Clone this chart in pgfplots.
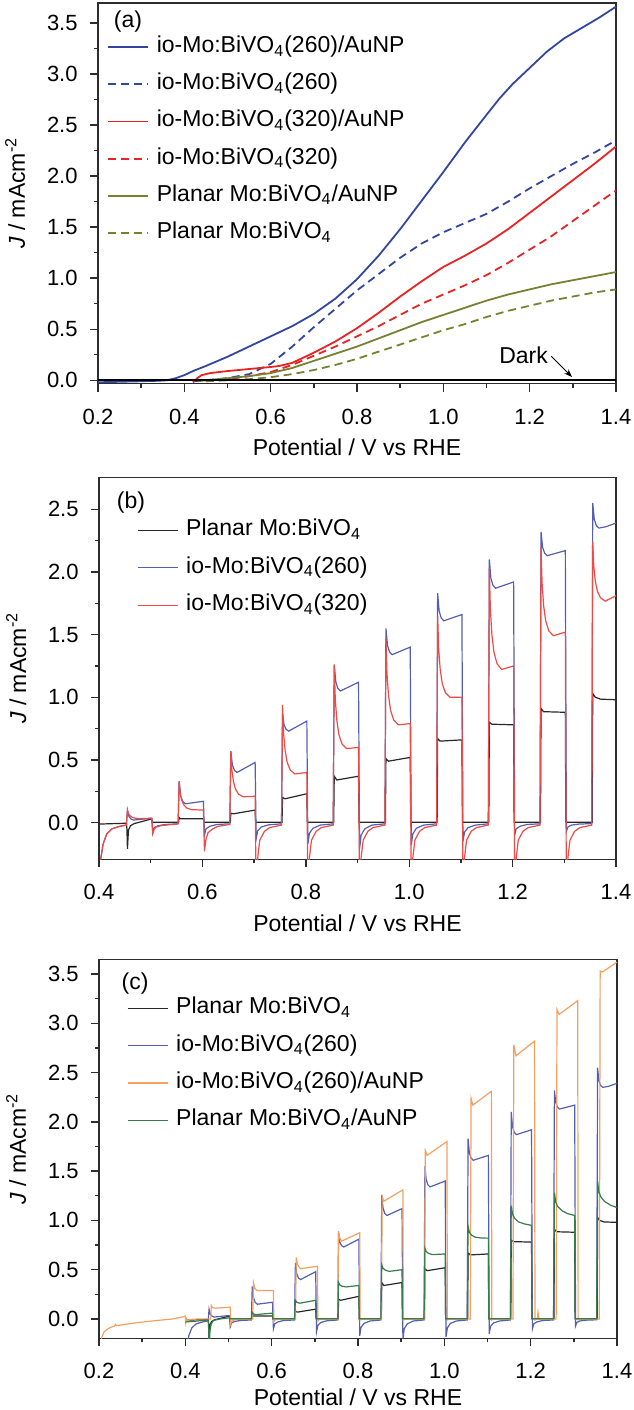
\documentclass[border=0pt]{standalone}
\usepackage{fontspec}
\setmainfont{Liberation Sans}
\usepackage{pgfplots}
\usepackage{pgfplotstable}
\pgfplotsset{compat=1.18}
\usetikzlibrary{arrows.meta}
\definecolor{aBlue}{RGB}{50,70,160}
\definecolor{aRed}{RGB}{232,35,35}
\definecolor{aOlive}{RGB}{120,128,50}
\definecolor{bBlack}{RGB}{40,40,40}
\definecolor{bBlue}{RGB}{85,95,178}
\definecolor{bRed}{RGB}{236,75,70}
\definecolor{cOrange}{RGB}{245,160,95}
\definecolor{cGreen}{RGB}{55,125,75}
\definecolor{axc}{RGB}{45,45,45}

% io-Mo:BiVO4(260), chopped light
\pgfplotstableread[row sep=\\]{
x y\\
0.400 -0.5\\ 0.403 -0.3\\ 0.408 -0.17\\ 0.415 -0.09\\ 0.425 -0.05\\ 0.440 -0.03\\ 0.453 -0.02\\
0.455 0.10\\ 0.458 0.048\\ 0.462 0.028\\ 0.467 0.02\\ 0.502 0.035\\
0.504 -0.08\\ 0.507 -0.04\\ 0.514 -0.025\\ 0.528 -0.015\\ 0.553 -0.01\\
0.555 0.33\\ 0.558 0.213\\ 0.562 0.168\\ 0.567 0.15\\ 0.602 0.17\\
0.604 -0.10\\ 0.607 -0.05\\ 0.614 -0.03\\ 0.628 -0.015\\ 0.653 -0.01\\
0.655 0.57\\ 0.658 0.46\\ 0.662 0.417\\ 0.667 0.40\\ 0.702 0.48\\
0.704 -0.13\\ 0.707 -0.065\\ 0.714 -0.035\\ 0.728 -0.018\\ 0.753 -0.01\\
0.755 0.87\\ 0.758 0.779\\ 0.762 0.744\\ 0.767 0.73\\ 0.802 0.81\\
0.804 -0.17\\ 0.807 -0.085\\ 0.814 -0.045\\ 0.828 -0.02\\ 0.853 -0.01\\
0.855 1.26\\ 0.858 1.124\\ 0.862 1.071\\ 0.867 1.05\\ 0.902 1.12\\
0.904 -0.21\\ 0.907 -0.10\\ 0.914 -0.05\\ 0.928 -0.02\\ 0.953 -0.01\\
0.955 1.55\\ 0.958 1.414\\ 0.962 1.361\\ 0.967 1.34\\ 1.002 1.40\\
1.004 -0.18\\ 1.007 -0.09\\ 1.014 -0.045\\ 1.028 -0.02\\ 1.053 -0.01\\
1.055 1.83\\ 1.058 1.687\\ 1.062 1.632\\ 1.067 1.61\\ 1.102 1.66\\
1.104 -0.15\\ 1.107 -0.075\\ 1.114 -0.04\\ 1.128 -0.02\\ 1.153 -0.01\\
1.155 2.10\\ 1.158 1.95\\ 1.162 1.893\\ 1.167 1.87\\ 1.202 1.92\\
1.204 -0.10\\ 1.207 -0.05\\ 1.214 -0.03\\ 1.228 -0.015\\ 1.253 -0.01\\
1.255 2.32\\ 1.258 2.197\\ 1.262 2.149\\ 1.267 2.13\\ 1.302 2.17\\
1.304 -0.07\\ 1.307 -0.035\\ 1.314 -0.02\\ 1.328 -0.012\\ 1.353 -0.008\\
1.355 2.55\\ 1.358 2.42\\ 1.362 2.37\\ 1.367 2.35\\ 1.380 2.36\\ 1.400 2.39\\
}\blueT

% Planar Mo:BiVO4, chopped light
\pgfplotstableread[row sep=\\]{
x y\\
0.400 -0.012\\ 0.430 -0.008\\ 0.453 -0.005\\ 0.454 -0.05\\ 0.455 -0.21\\ 0.457 -0.06\\ 0.461 -0.025\\ 0.468 -0.008\\ 0.480 0.005\\ 0.502 0.03\\ 0.503 0.003\\ 0.553 0.003\\
0.554 0.003\\ 0.555 0.04\\ 0.558 0.03\\ 0.602 0.03\\ 0.603 0.003\\ 0.653 0.003\\
0.654 0.003\\ 0.655 0.075\\ 0.660 0.07\\ 0.702 0.10\\ 0.703 0.003\\ 0.753 0.003\\
0.754 0.003\\ 0.755 0.20\\ 0.760 0.19\\ 0.802 0.23\\ 0.803 0.003\\ 0.853 0.003\\
0.854 0.003\\ 0.855 0.37\\ 0.860 0.34\\ 0.902 0.37\\ 0.903 0.003\\ 0.953 0.003\\
0.954 0.003\\ 0.955 0.51\\ 0.960 0.49\\ 1.002 0.52\\ 1.003 0.003\\ 1.053 0.003\\
1.054 0.003\\ 1.055 0.67\\ 1.060 0.65\\ 1.102 0.66\\ 1.103 0.003\\ 1.153 0.003\\
1.154 0.003\\ 1.155 0.80\\ 1.160 0.785\\ 1.202 0.78\\ 1.203 0.003\\ 1.253 0.003\\
1.254 0.003\\ 1.255 0.91\\ 1.260 0.885\\ 1.302 0.88\\ 1.303 0.003\\ 1.353 0.003\\
1.354 0.003\\ 1.355 1.03\\ 1.360 1.00\\ 1.370 0.985\\ 1.400 0.98\\
}\blackT

\pgfplotsset{
  panel/.style={
    scale only axis,
    xtick pos=left, ytick pos=left, tick align=outside,
    major tick length=4pt, minor tick length=2pt,
    minor x tick num=1, minor y tick num=1,
    axis line style={line width=0.8pt, draw=axc},
    every tick/.style={line width=0.7pt, axc},
    tick label style={font=\fontsize{11}{13}\selectfont},
    /pgf/number format/fixed, /pgf/number format/fixed zerofill,
    /pgf/number format/precision=1, /pgf/number format/assume math mode=true,
    xticklabel style={anchor=center, inner sep=0pt, yshift=-12.5pt},
    yticklabel style={anchor=east, inner sep=0pt, xshift=-6pt},
    label style={font=\fontsize{11.5}{14}\selectfont},
    xlabel={Potential / V vs RHE},
    ylabel={\textit{J} / mAcm\textsuperscript{-2}},
    xlabel style={at={(axis description cs:0.5,0)}, anchor=center, yshift=-32pt},
    ylabel style={at={(axis description cs:-0.160,0.5)}, anchor=center},
    legend cell align=left,
    legend style={draw=none, fill=none, inner sep=0pt, outer sep=0pt,
      column sep=4pt, anchor=north west,
      font=\fontsize{11.5}{14}\selectfont,
      nodes={inner sep=0pt, text height=8.5pt, text depth=3pt}},
    legend image code/.code={\draw[##1] (0pt,0pt) -- (20pt,0pt);},
  }
}

\begin{document}
\begin{tikzpicture}
\path[use as bounding box] (0,0) rectangle (316.5pt,-705pt);

% ---------------- (a) ----------------
\begin{axis}[panel,
  at={(49pt,-1.5pt)}, anchor=north west,
  width=259pt, height=190.3pt,
  xmin=0.2, xmax=1.4, ymin=-0.033, ymax=3.696,
  xtick={0.2,0.4,...,1.4}, ytick={0,0.5,...,3.5},
  legend style={at={(axis description cs:0,1)}, xshift=4.5pt, yshift=-16.25pt, row sep=7.1pt},
  every axis plot/.append style={line width=0.9pt},
]
\addlegendimage{draw=aBlue, line width=0.9pt}
\addlegendentry{io-Mo:BiVO\textsubscript{4}(260)/AuNP}
\addlegendimage{draw=aBlue, line width=0.9pt, dash pattern=on 4pt off 2.5pt}
\addlegendentry{io-Mo:BiVO\textsubscript{4}(260)}
\addlegendimage{draw=aRed, line width=0.9pt}
\addlegendentry{io-Mo:BiVO\textsubscript{4}(320)/AuNP}
\addlegendimage{draw=aRed, line width=0.9pt, dash pattern=on 4pt off 2.5pt}
\addlegendentry{io-Mo:BiVO\textsubscript{4}(320)}
\addlegendimage{draw=aOlive, line width=0.9pt}
\addlegendentry{Planar Mo:BiVO\textsubscript{4}/AuNP}
\addlegendimage{draw=aOlive, line width=0.9pt, dash pattern=on 4pt off 2.5pt}
\addlegendentry{Planar Mo:BiVO\textsubscript{4}}
\addplot[color=aBlue, forget plot] coordinates {(0.20,-0.02)(0.25,-0.015)(0.30,-0.01)(0.34,-0.005)(0.36,0.0)(0.38,0.02)(0.40,0.05)(0.42,0.09)(0.45,0.14)(0.50,0.23)(0.55,0.33)(0.60,0.43)(0.65,0.53)(0.70,0.65)(0.75,0.80)(0.80,0.99)(0.85,1.22)(0.90,1.48)(0.95,1.76)(1.00,2.04)(1.05,2.33)(1.10,2.60)(1.13,2.76)(1.16,2.90)(1.20,3.06)(1.24,3.22)(1.28,3.35)(1.32,3.45)(1.36,3.55)(1.40,3.66)};
\addplot[color=aBlue, dash pattern=on 4pt off 2.5pt, forget plot] coordinates {(0.42,-0.01)(0.45,0.0)(0.50,0.02)(0.55,0.06)(0.60,0.16)(0.65,0.33)(0.70,0.52)(0.75,0.70)(0.80,0.88)(0.85,1.04)(0.90,1.20)(0.95,1.34)(1.00,1.45)(1.05,1.54)(1.10,1.63)(1.15,1.75)(1.20,1.88)(1.25,2.00)(1.30,2.12)(1.35,2.23)(1.40,2.35)};
\addplot[color=aRed, forget plot] coordinates {(0.42,-0.02)(0.43,0.02)(0.44,0.05)(0.46,0.07)(0.50,0.09)(0.55,0.11)(0.60,0.13)(0.62,0.14)(0.65,0.17)(0.70,0.27)(0.75,0.38)(0.80,0.51)(0.85,0.66)(0.90,0.82)(0.95,0.97)(1.00,1.11)(1.05,1.22)(1.10,1.34)(1.15,1.48)(1.20,1.64)(1.25,1.80)(1.30,1.96)(1.35,2.12)(1.40,2.29)};
\addplot[color=aRed, dash pattern=on 4pt off 2.5pt, forget plot] coordinates {(0.45,-0.01)(0.50,0.01)(0.55,0.04)(0.60,0.08)(0.65,0.15)(0.70,0.24)(0.75,0.33)(0.80,0.43)(0.85,0.53)(0.90,0.64)(0.95,0.75)(1.00,0.84)(1.05,0.93)(1.10,1.03)(1.15,1.15)(1.20,1.28)(1.25,1.41)(1.30,1.56)(1.35,1.71)(1.40,1.86)};
\addplot[color=aOlive, forget plot] coordinates {(0.43,-0.01)(0.45,0.0)(0.50,0.02)(0.55,0.04)(0.60,0.07)(0.65,0.12)(0.70,0.19)(0.75,0.26)(0.80,0.33)(0.85,0.41)(0.90,0.49)(0.95,0.57)(1.00,0.64)(1.05,0.71)(1.10,0.78)(1.15,0.84)(1.20,0.89)(1.25,0.94)(1.30,0.98)(1.35,1.02)(1.40,1.06)};
\addplot[color=aOlive, dash pattern=on 4pt off 2.5pt, forget plot] coordinates {(0.45,-0.01)(0.50,0.0)(0.55,0.01)(0.60,0.03)(0.65,0.06)(0.70,0.10)(0.75,0.15)(0.80,0.21)(0.85,0.28)(0.90,0.35)(0.95,0.42)(1.00,0.49)(1.05,0.55)(1.10,0.62)(1.15,0.68)(1.20,0.73)(1.25,0.78)(1.30,0.82)(1.35,0.86)(1.40,0.89)};
\addplot[black, line width=1pt, forget plot] coordinates {(0.2,0.0)(1.4,0.0)};
\node[font=\fontsize{11.5}{14}\selectfont] at (rel axis cs:0.058,0.950) {(a)};
\node[font=\fontsize{11.5}{14}\selectfont] at (axis cs:1.186,0.245) {Dark};
\draw[-{Stealth[length=4pt,width=3pt]}, line width=0.5pt, black] (axis cs:1.250,0.235) -- (axis cs:1.298,0.032);
\end{axis}

% ---------------- (b) ----------------
\begin{axis}[panel,
  at={(49.5pt,-238.65pt)}, anchor=north west,
  width=258.5pt, height=191pt,
  xmin=0.4, xmax=1.4, ymin=-0.293, ymax=2.755,
  xtick={0.4,0.6,...,1.4}, ytick={0,0.5,...,2.5},
  legend style={at={(axis description cs:0,1)}, xshift=19pt, yshift=-20.75pt, row sep=7.25pt},
  every axis plot/.append style={line width=0.6pt},
]
\addlegendimage{draw=bBlack, line width=0.6pt}
\addlegendentry{Planar Mo:BiVO\textsubscript{4}}
\addlegendimage{draw=bBlue, line width=0.6pt}
\addlegendentry{io-Mo:BiVO\textsubscript{4}(260)}
\addlegendimage{draw=bRed, line width=0.6pt}
\addlegendentry{io-Mo:BiVO\textsubscript{4}(320)}
\addplot[color=bBlack, forget plot] table {\blackT};
\addplot[color=bBlue, forget plot] table {\blueT};
\addplot[color=bRed, forget plot] table[row sep=\\] {
x y\\
0.400 -0.5\\ 0.403 -0.3\\ 0.408 -0.17\\ 0.415 -0.09\\ 0.425 -0.05\\ 0.440 -0.03\\ 0.453 -0.02\\
0.455 0.10\\ 0.457 0.072\\ 0.460 0.055\\ 0.464 0.043\\ 0.470 0.035\\ 0.479 0.031\\ 0.502 0.035\\
0.504 -0.09\\ 0.507 -0.05\\ 0.511 -0.035\\ 0.520 -0.025\\ 0.530 -0.02\\ 0.553 -0.01\\
0.555 0.33\\ 0.557 0.238\\ 0.560 0.18\\ 0.564 0.141\\ 0.570 0.116\\ 0.579 0.103\\ 0.602 0.10\\
0.604 -0.23\\ 0.607 -0.13\\ 0.611 -0.08\\ 0.620 -0.05\\ 0.630 -0.03\\ 0.653 -0.015\\
0.655 0.57\\ 0.657 0.422\\ 0.660 0.33\\ 0.664 0.267\\ 0.670 0.226\\ 0.679 0.206\\ 0.702 0.21\\
0.704 -0.6\\ 0.707 -0.28\\ 0.711 -0.14\\ 0.720 -0.07\\ 0.730 -0.04\\ 0.753 -0.02\\
0.755 0.94\\ 0.757 0.716\\ 0.760 0.576\\ 0.764 0.48\\ 0.770 0.419\\ 0.779 0.388\\ 0.802 0.40\\
0.804 -0.6\\ 0.807 -0.28\\ 0.811 -0.14\\ 0.820 -0.07\\ 0.830 -0.04\\ 0.853 -0.02\\
0.855 1.26\\ 0.857 0.988\\ 0.860 0.818\\ 0.864 0.702\\ 0.870 0.628\\ 0.879 0.59\\ 0.902 0.60\\
0.904 -0.6\\ 0.907 -0.28\\ 0.911 -0.14\\ 0.920 -0.07\\ 0.930 -0.04\\ 0.953 -0.02\\
0.955 1.47\\ 0.957 1.19\\ 0.960 1.015\\ 0.964 0.896\\ 0.970 0.819\\ 0.979 0.78\\ 1.002 0.79\\
1.004 -0.6\\ 1.007 -0.28\\ 1.011 -0.14\\ 1.020 -0.07\\ 1.030 -0.04\\ 1.053 -0.02\\
1.055 1.65\\ 1.057 1.386\\ 1.060 1.221\\ 1.064 1.109\\ 1.070 1.036\\ 1.079 1.0\\ 1.102 1.00\\
1.104 -0.6\\ 1.107 -0.28\\ 1.111 -0.14\\ 1.120 -0.07\\ 1.130 -0.04\\ 1.153 -0.02\\
1.155 2.03\\ 1.157 1.702\\ 1.160 1.497\\ 1.164 1.358\\ 1.170 1.267\\ 1.179 1.222\\ 1.202 1.25\\
1.204 -0.6\\ 1.207 -0.28\\ 1.211 -0.14\\ 1.220 -0.07\\ 1.230 -0.04\\ 1.253 -0.02\\
1.255 2.20\\ 1.257 1.912\\ 1.260 1.732\\ 1.264 1.61\\ 1.270 1.53\\ 1.279 1.491\\ 1.302 1.52\\
1.304 -0.6\\ 1.307 -0.28\\ 1.311 -0.14\\ 1.320 -0.07\\ 1.330 -0.04\\ 1.353 -0.02\\
1.355 2.24\\ 1.357 2.048\\ 1.360 1.928\\ 1.364 1.846\\ 1.370 1.794\\ 1.379 1.767\\ 1.400 1.81\\
};
\node[font=\fontsize{11.5}{14}\selectfont] at (rel axis cs:0.062,0.935) {(b)};
\end{axis}

% ---------------- (c) ----------------
\begin{axis}[panel,
  at={(49.5pt,-479.65pt)}, anchor=north west,
  width=259pt, height=189.5pt,
  xmin=0.2, xmax=1.4, ymin=-0.196, ymax=3.649,
  xtick={0.2,0.4,...,1.4}, ytick={0,0.5,...,3.5},
  xlabel style={yshift=2.5pt},
  legend style={at={(axis description cs:0,1)}, xshift=14pt, yshift=-18.75pt, row sep=7.15pt},
  every axis plot/.append style={line width=0.6pt},
]
\addlegendimage{draw=bBlack, line width=0.6pt}
\addlegendentry{Planar Mo:BiVO\textsubscript{4}}
\addlegendimage{draw=bBlue, line width=0.6pt}
\addlegendentry{io-Mo:BiVO\textsubscript{4}(260)}
\addlegendimage{draw=cOrange, line width=0.6pt}
\addlegendentry{io-Mo:BiVO\textsubscript{4}(260)/AuNP}
\addlegendimage{draw=cGreen, line width=0.6pt}
\addlegendentry{Planar Mo:BiVO\textsubscript{4}/AuNP}
\addplot[color=bBlack, forget plot] table {\blackT};
\addplot[color=bBlue, forget plot] table {\blueT};
\addplot[color=cOrange, forget plot] table[row sep=\\] {
x y\\
0.203 -0.5\\ 0.206 -0.19\\ 0.212 -0.13\\ 0.220 -0.10\\ 0.230 -0.08\\ 0.236 -0.072\\ 0.238 -0.055\\ 0.241 -0.068\\ 0.255 -0.058\\ 0.275 -0.045\\ 0.294 -0.034\\ 0.332 -0.016\\ 0.370 0.0\\ 0.398 0.025\\ 0.400 0.03\\ 0.401 -0.04\\ 0.403 0.0\\ 0.405 -0.02\\ 0.410 -0.005\\ 0.430 0.0\\ 0.459 0.0\\
0.460 0.135\\ 0.463 0.115\\ 0.470 0.11\\ 0.504 0.12\\ 0.505 -0.05\\ 0.508 -0.02\\ 0.515 -0.005\\ 0.556 0.0\\
0.558 0.365\\ 0.561 0.31\\ 0.566 0.29\\ 0.604 0.29\\ 0.605 -0.03\\ 0.608 -0.01\\ 0.615 0.0\\ 0.655 0.0\\
0.657 0.625\\ 0.660 0.55\\ 0.667 0.51\\ 0.706 0.535\\ 0.707 -0.02\\ 0.710 -0.005\\ 0.720 0.0\\ 0.753 0.0\\
0.755 0.89\\ 0.758 0.82\\ 0.762 0.79\\ 0.804 0.875\\ 0.805 -0.01\\ 0.810 0.0\\ 0.854 0.0\\
0.856 1.24\\ 0.860 1.195\\ 0.904 1.31\\ 0.905 -0.01\\ 0.910 0.0\\ 0.954 0.0\\
0.956 1.71\\ 0.960 1.66\\ 1.006 1.80\\ 1.007 -0.01\\ 1.012 0.0\\ 1.060 0.0\\
1.062 2.24\\ 1.066 2.17\\ 1.109 2.31\\ 1.110 -0.01\\ 1.115 0.0\\ 1.159 0.0\\
1.161 2.78\\ 1.166 2.67\\ 1.209 2.82\\ 1.210 -0.01\\ 1.215 0.0\\ 1.217 0.07\\ 1.219 0.0\\ 1.259 0.0\\
1.261 3.14\\ 1.266 3.09\\ 1.309 3.23\\ 1.310 -0.01\\ 1.315 0.0\\ 1.359 0.0\\
1.361 3.53\\ 1.366 3.52\\ 1.400 3.62\\
};
\addplot[color=cGreen, forget plot] table[row sep=\\] {
x y\\
0.400 -0.03\\ 0.430 -0.02\\ 0.453 -0.01\\ 0.454 -0.1\\ 0.455 -0.4\\ 0.457 -0.12\\ 0.460 -0.05\\ 0.465 -0.015\\ 0.480 0.0\\ 0.502 0.012\\ 0.503 0.002\\ 0.553 0.002\\
0.555 0.07\\ 0.558 0.05\\ 0.565 0.045\\ 0.602 0.06\\ 0.603 0.002\\ 0.653 0.002\\
0.655 0.19\\ 0.658 0.17\\ 0.665 0.16\\ 0.702 0.19\\ 0.703 0.002\\ 0.753 0.002\\
0.755 0.37\\ 0.758 0.345\\ 0.763 0.333\\ 0.772 0.325\\ 0.802 0.34\\ 0.803 0.002\\ 0.853 0.002\\
0.855 0.55\\ 0.858 0.515\\ 0.863 0.497\\ 0.872 0.483\\ 0.902 0.50\\ 0.903 0.002\\ 0.953 0.002\\
0.955 0.72\\ 0.958 0.685\\ 0.963 0.667\\ 0.972 0.653\\ 1.002 0.66\\ 1.003 0.002\\ 1.053 0.002\\
1.055 0.94\\ 1.058 0.88\\ 1.063 0.85\\ 1.072 0.83\\ 1.085 0.822\\ 1.102 0.82\\ 1.103 0.002\\ 1.153 0.002\\
1.155 1.15\\ 1.158 1.065\\ 1.163 1.02\\ 1.172 0.985\\ 1.185 0.965\\ 1.202 0.95\\ 1.203 0.002\\ 1.253 0.002\\
1.255 1.28\\ 1.258 1.185\\ 1.263 1.14\\ 1.272 1.10\\ 1.285 1.07\\ 1.302 1.05\\ 1.303 0.002\\ 1.353 0.002\\
1.355 1.40\\ 1.358 1.29\\ 1.363 1.235\\ 1.372 1.19\\ 1.385 1.155\\ 1.400 1.13\\
};
\node[font=\fontsize{11.5}{14}\selectfont] at (rel axis cs:0.0695,0.937) {(c)};
\end{axis}
\end{tikzpicture}
\end{document}
